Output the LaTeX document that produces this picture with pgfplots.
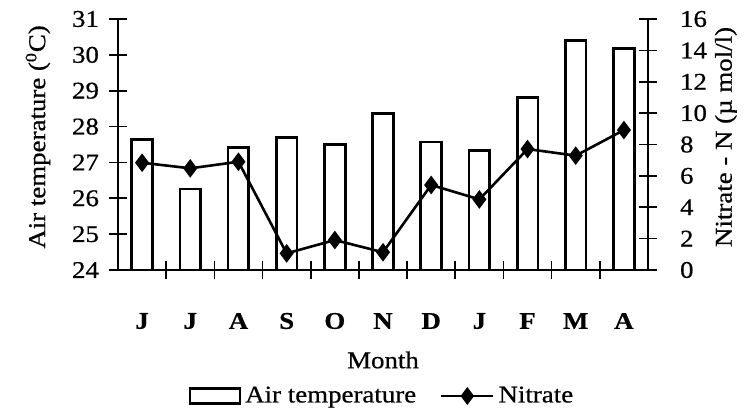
\documentclass[border=0pt]{standalone}
\usepackage{pgfplots}
\pgfplotsset{compat=1.18}
\usepackage{fontspec}
\setmainfont[FakeStretch=1.12, FakeBold=0.6]{Liberation Serif}
\begin{document}
\begin{tikzpicture}
\useasboundingbox (-59pt,-71pt) rectangle (314.5pt,135pt);
\pgfplotsset{
  every axis/.append style={
    scale only axis, width=265pt, height=125.5pt,
    at={(0pt,0pt)}, anchor=south west,
    xmin=-0.5, xmax=10.5,
    tick align=center, major tick length=9pt, minor tick length=9pt,
    every tick/.style={black, line width=0.8pt},
    axis line style={line width=0.8pt},
    /pgf/number format/assume math mode=true,
    tick label style={font=\fontsize{12}{14}\selectfont},
    label style={font=\fontsize{12}{14}\selectfont},
  }
}
\begin{axis}[
  axis x line*=bottom, axis y line*=left,
  ymin=24, ymax=31, ytick={24,25,...,31},
  xtick={0,...,10}, xticklabels={J,J,A,S,O,N,D,J,F,M,A},
  major x tick style={draw=none},
  minor xtick={0.5,1.5,...,9.5},
  xticklabel style={anchor=center, yshift=-21pt, font=\fontsize{12}{14}\selectfont\bfseries},
  yticklabel style={xshift=-1.5pt},
  xlabel={Month},
  xlabel style={at={(axis description cs:0.5,-0.3586)}, anchor=center},
  ylabel={Air temperature (\textsuperscript{0}C)},
  ylabel style={at={(axis description cs:-0.151,0.53)}, anchor=center},
  legend style={at={(axis description cs:0.5,-0.502)}, anchor=center, draw=none, fill=none,
    font=\fontsize{12}{14}\selectfont, legend columns=2,
    /tikz/every even column/.append style={column sep=10pt},
    inner sep=0pt},
  legend cell align=left,
]
\addplot[ybar, bar width=0.43, bar shift=0pt, fill=white, draw=black, line width=1.4pt,
  legend image code/.code={\draw[fill=white, line width=1.2pt] (0pt,-3.8pt) rectangle (25pt,3.8pt);}]
  coordinates {(0,27.64) (1,26.26) (2,27.41) (3,27.70) (4,27.51) (5,28.37) (6,27.57) (7,27.33) (8,28.82) (9,30.41) (10,30.17)};
\addlegendentry{Air temperature}
\addlegendimage{legend image code/.code={\draw[black, line width=1.2pt, mark=diamond*, mark size=3.5pt, mark repeat=2,mark phase=2] plot coordinates {(0pt,0pt) (13pt,0pt) (26pt,0pt)};}}
\addlegendentry{Nitrate}
\end{axis}
\begin{axis}[
  axis y line*=right, axis x line=none,
  ymin=0, ymax=16, ytick={0,2,...,16},
  yticklabel style={anchor=west, xshift=8pt},
  ylabel={Nitrate - N (\textmu\ mol/l)},
  ylabel style={at={(axis description cs:1.147,0.53)}, anchor=center},
]
\addplot[black, line width=1.3pt, mark=diamond*, mark size=3.6pt]
  coordinates {(0,6.84) (1,6.48) (2,6.90) (3,1.06) (4,1.91) (5,1.13) (6,5.42) (7,4.50) (8,7.71) (9,7.29) (10,8.92)};
\end{axis}
\end{tikzpicture}
\end{document}
